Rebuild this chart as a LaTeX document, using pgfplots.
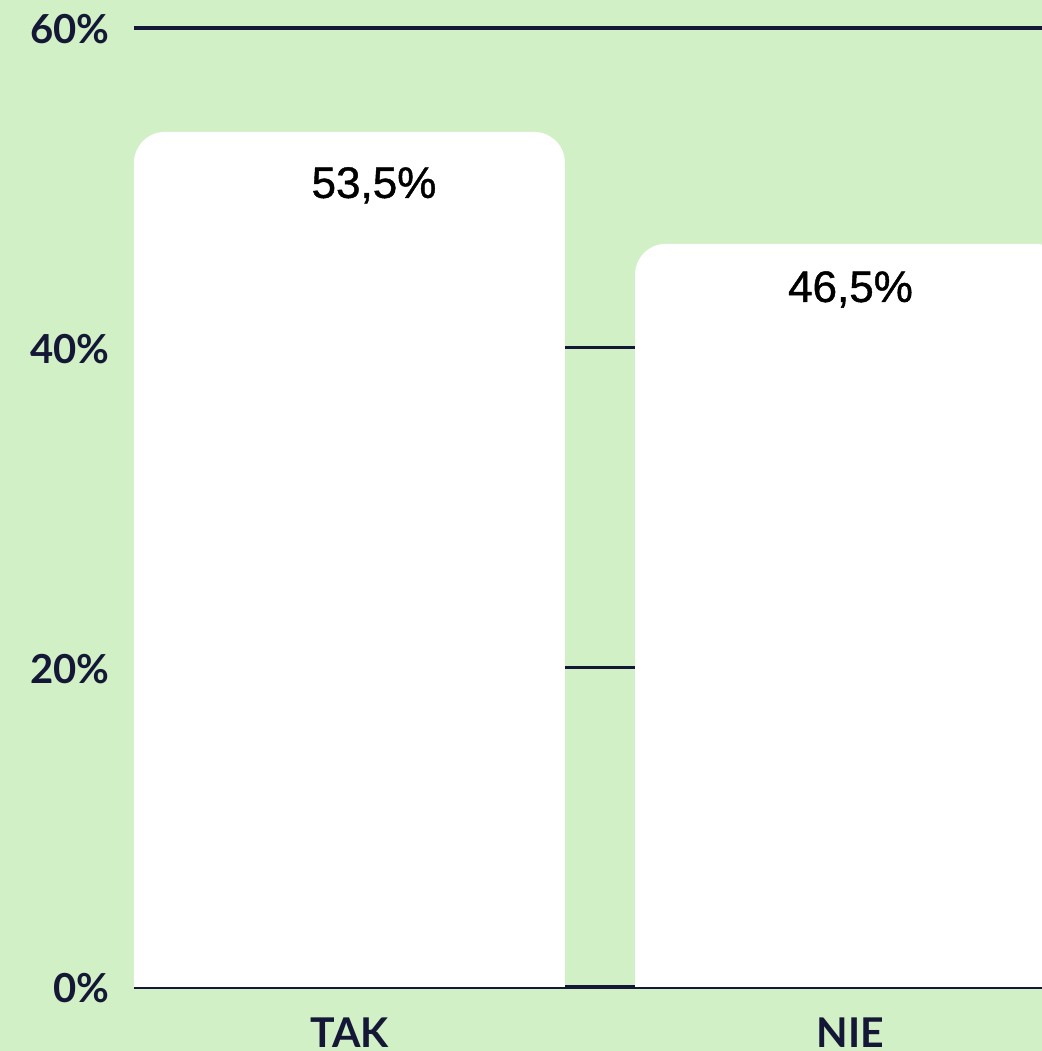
\documentclass[border=0pt]{standalone}
\usepackage{pgfplots}
\pgfplotsset{compat=1.18}
\usepackage{fontspec}
\setmainfont{Lato}
\newfontfamily\barfont[FakeBold=1]{Liberation Sans}
\definecolor{bg}{HTML}{D1F0C5}
\definecolor{navy}{HTML}{141836}
\begin{document}
\begin{tikzpicture}[x=1pt,y=1pt]
\fill[bg] (-67,-32) rectangle (454,493.5);
\useasboundingbox (-67,-32) rectangle (454,493.5);
\begin{axis}[at={(0,0)}, anchor=south west, scale only axis,
  width=454pt, height=479.5pt,
  xmin=-0.4301, xmax=1.3822, ymin=0, ymax=60,
  ytick={0,20,40,60}, yticklabels={0\%,20\%,40\%,60\%},
  xtick={0,1}, xticklabels={TAK,NIE},
  ymajorgrids, grid style={navy, line width=1.6pt},
  axis line style={draw=none}, major tick length=0pt, tick style={draw=none},
  tick label style={font=\fontsize{20}{24}\selectfont\bfseries, text=navy, inner sep=0pt},
  yticklabel style={anchor=base east, xshift=-12pt, yshift=-8pt},
  xticklabel style={anchor=base, yshift=-30.5pt, font=\fontsize{20.5}{24}\selectfont\bfseries},
  clip=true]
\addplot[fill=white, draw=none, rounded corners=15.5pt] coordinates {(-0.4301,-10) (-0.4301,53.5) (0.4301,53.5) (0.4301,-10)};
\addplot[fill=white, draw=none, rounded corners=15.5pt] coordinates {(0.5699,-10) (0.5699,46.5) (1.4301,46.5) (1.4301,-10)};
\node[font=\barfont\fontsize{22}{26}\selectfont, text=black, anchor=base, inner sep=0pt] at (axis cs:0.0489,49.37) {53,5\%};
\node[font=\barfont\fontsize{22}{26}\selectfont, text=black, anchor=base, inner sep=0pt] at (axis cs:1.0,42.86) {46,5\%};
\end{axis}
\end{tikzpicture}
\end{document}
